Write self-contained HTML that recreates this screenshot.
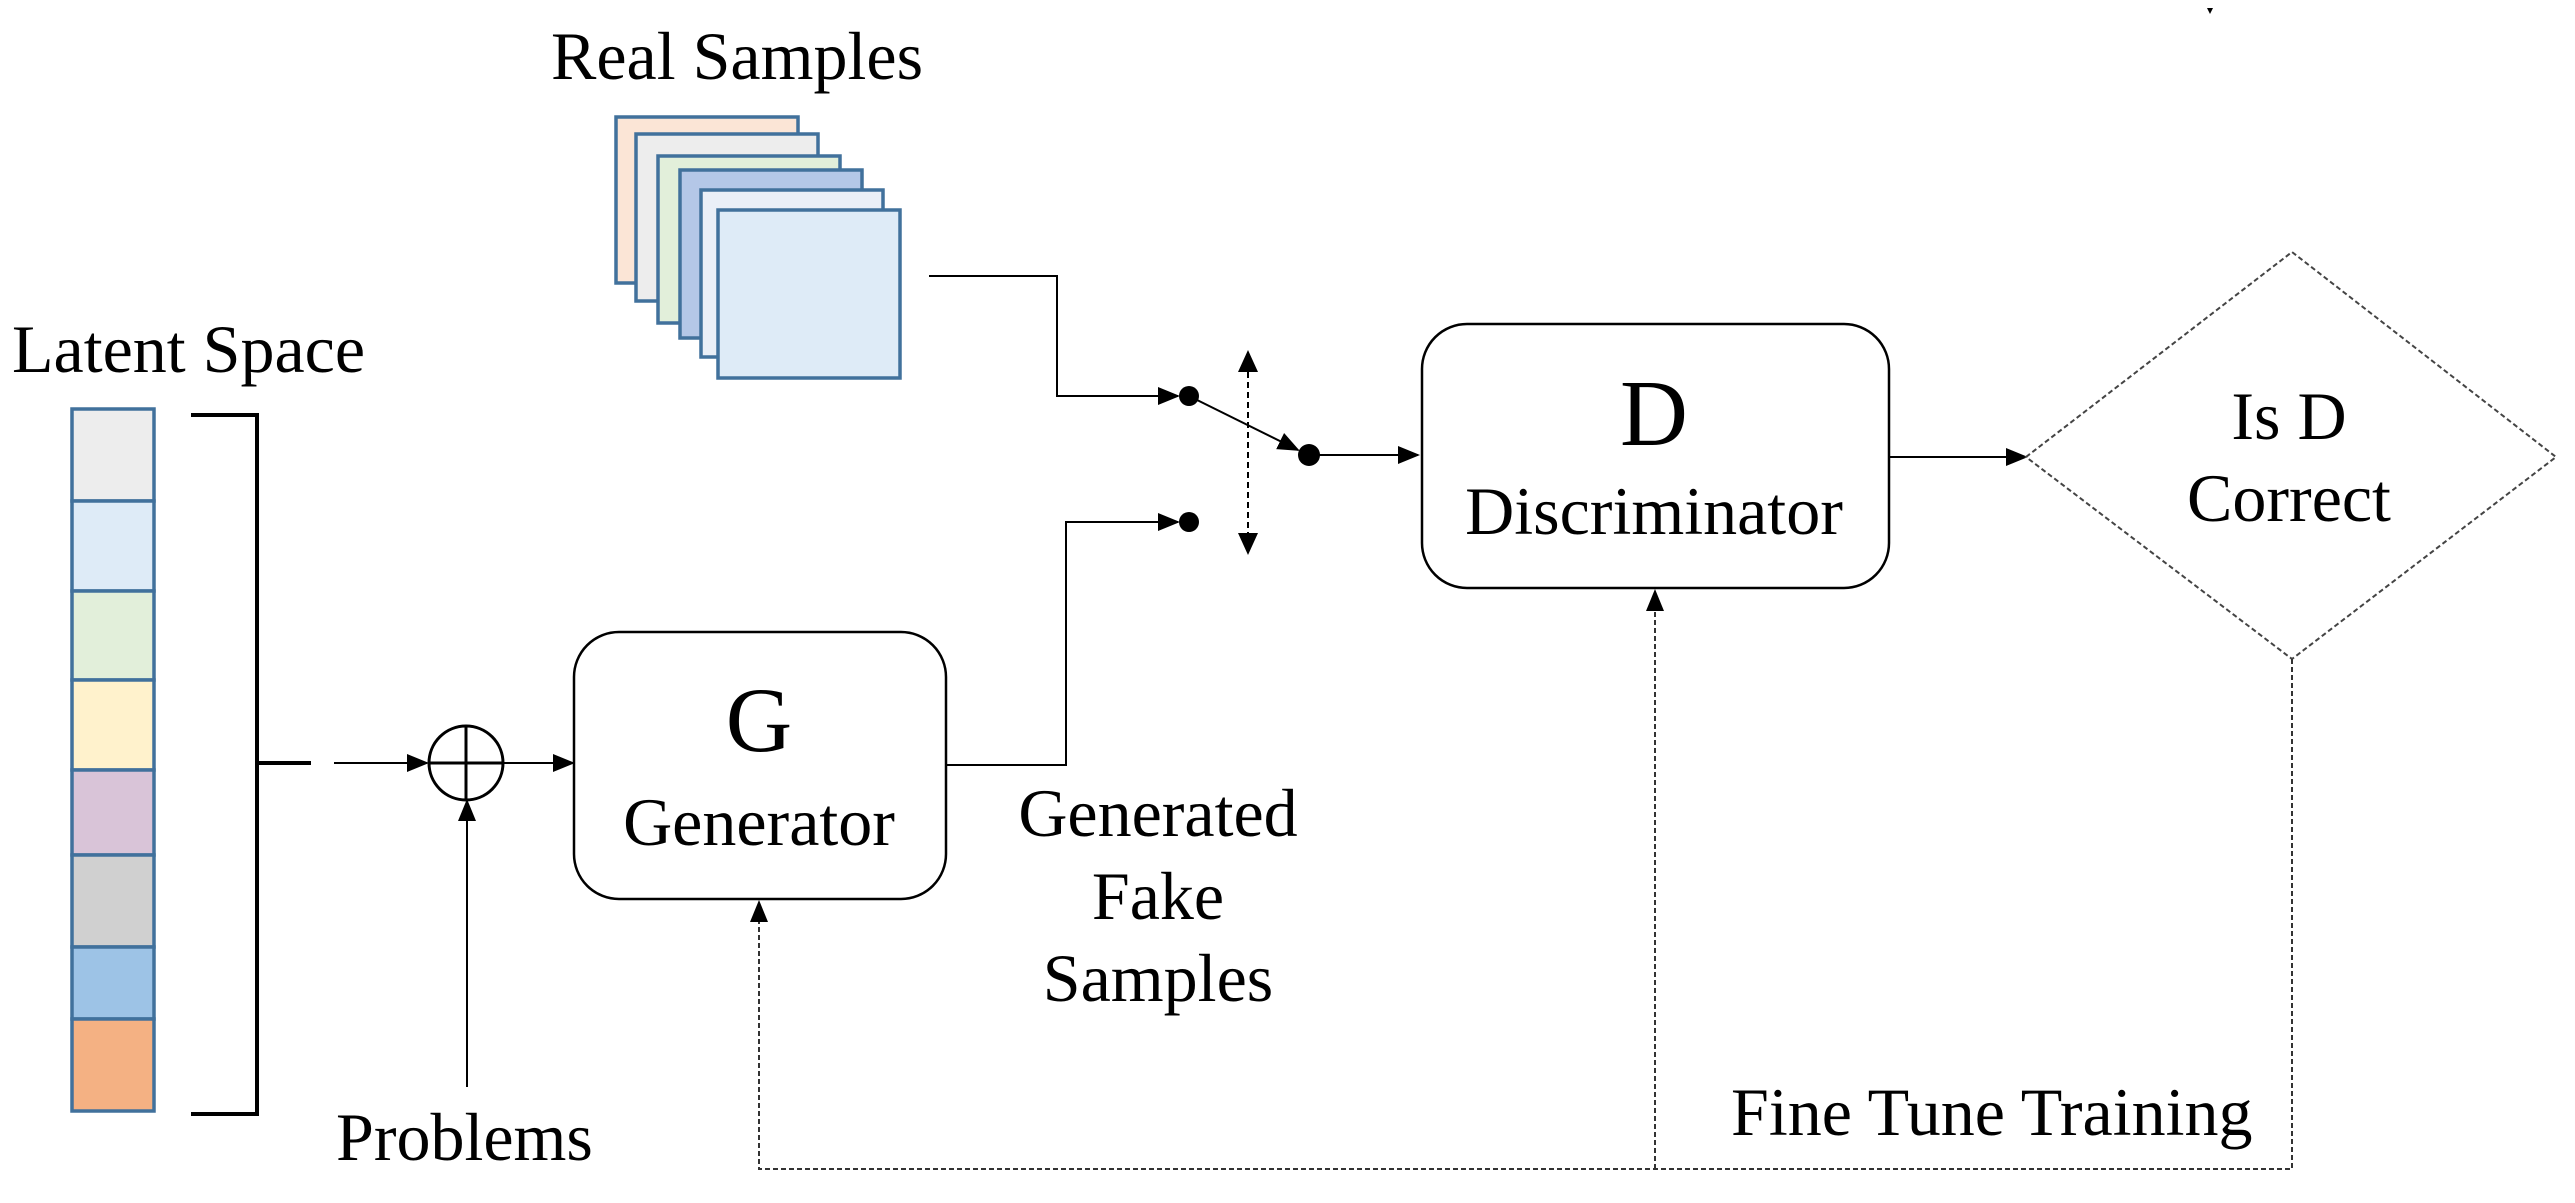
<!DOCTYPE html>
<html><head><meta charset="utf-8"><style>
html,body{margin:0;padding:0;background:#fff;}
svg{display:block;}
text{font-family:"Liberation Serif",serif;fill:#000;}
</style></head><body>
<svg width="2575" height="1203" viewBox="0 0 2575 1203" xmlns="http://www.w3.org/2000/svg">
<defs>
<marker id="arb" markerWidth="22" markerHeight="22" refX="20" refY="11" orient="auto" markerUnits="userSpaceOnUse" viewBox="0 0 22 22">
<path d="M0,2 L22,11 L0,20 z" fill="#000"/></marker>
</defs>

<text x="551" y="79" font-size="68">Real Samples</text>
<g stroke="#41719c" stroke-width="3.5">
<rect x="616" y="117" width="182" height="166" fill="#fbe5d6"/>
<rect x="636" y="134" width="182" height="167" fill="#ededed"/>
<rect x="658" y="156" width="182" height="167" fill="#e2efda"/>
<rect x="680" y="170" width="182" height="168" fill="#b4c7e7"/>
<rect x="701" y="190" width="182" height="167" fill="#eaeff7"/>
<rect x="718" y="210" width="182" height="168" fill="#deebf7"/>
</g>

<text x="12" y="372" font-size="68">Latent Space</text>
<g stroke="#41719c" stroke-width="3.5">
<rect x="72" y="409" width="82" height="92" fill="#ededed"/>
<rect x="72" y="501" width="82" height="90" fill="#deebf7"/>
<rect x="72" y="591" width="82" height="89" fill="#e2efda"/>
<rect x="72" y="680" width="82" height="90" fill="#fff2cc"/>
<rect x="72" y="770" width="82" height="85" fill="#d9c4d8"/>
<rect x="72" y="855" width="82" height="92" fill="#d0d0d0"/>
<rect x="72" y="947" width="82" height="72" fill="#9dc3e6"/>
<rect x="72" y="1019" width="82" height="92" fill="#f4b183"/>
</g>
<path d="M191,415 H257 V1114 H191 M257,763 H311" fill="none" stroke="#000" stroke-width="4"/>

<line x1="334" y1="763" x2="427" y2="763" stroke="#000" stroke-width="2" marker-end="url(#arb)"/>
<circle cx="466" cy="763" r="37" fill="none" stroke="#000" stroke-width="3"/>
<line x1="429" y1="763" x2="503" y2="763" stroke="#000" stroke-width="3"/>
<line x1="466" y1="726" x2="466" y2="800" stroke="#000" stroke-width="3"/>
<line x1="504" y1="763" x2="573" y2="763" stroke="#000" stroke-width="2" marker-end="url(#arb)"/>
<line x1="467" y1="1087" x2="467" y2="801" stroke="#000" stroke-width="2" marker-end="url(#arb)"/>
<text x="336" y="1160" font-size="68">Problems</text>

<rect x="574" y="632" width="372" height="267" rx="45" fill="#fff" stroke="#000" stroke-width="2.5"/>
<text x="759" y="751" font-size="92" text-anchor="middle">G</text>
<text x="759" y="845" font-size="68" text-anchor="middle">Generator</text>

<text x="1158" y="836" font-size="68" text-anchor="middle">Generated</text>
<text x="1158" y="919" font-size="68" text-anchor="middle">Fake</text>
<text x="1158" y="1001" font-size="68" text-anchor="middle">Samples</text>

<path d="M929,276 H1057 V396 H1178" fill="none" stroke="#000" stroke-width="2" marker-end="url(#arb)"/>
<path d="M946,765 H1066 V522 H1178" fill="none" stroke="#000" stroke-width="2" marker-end="url(#arb)"/>
<circle cx="1189" cy="396" r="10" fill="#000"/>
<circle cx="1189" cy="522" r="10" fill="#000"/>
<line x1="1189" y1="396" x2="1298" y2="450" stroke="#000" stroke-width="2" marker-end="url(#arb)"/>
<circle cx="1309" cy="455" r="11" fill="#000"/>
<line x1="1248" y1="352" x2="1248" y2="553" stroke="#000" stroke-width="2" stroke-dasharray="6,4"/>
<path d="M1248,350 L1258,372 L1238,372 z M1248,555 L1258,533 L1238,533 z" fill="#000"/>
<line x1="1309" y1="455" x2="1418" y2="455" stroke="#000" stroke-width="2" marker-end="url(#arb)"/>

<rect x="1422" y="324" width="467" height="264" rx="45" fill="#fff" stroke="#000" stroke-width="2.5"/>
<text x="1654" y="445" font-size="94" text-anchor="middle">D</text>
<text x="1654" y="534" font-size="68" text-anchor="middle">Discriminator</text>

<line x1="1889" y1="457" x2="2026" y2="457" stroke="#000" stroke-width="2" marker-end="url(#arb)"/>
<path d="M2026,457 L2292,252 L2556,457 L2292,659 z" fill="none" stroke="#444" stroke-width="2" stroke-dasharray="5,3"/>
<text x="2289" y="439" font-size="68" text-anchor="middle">Is D</text>
<text x="2289" y="521" font-size="68" text-anchor="middle">Correct</text>

<path d="M2292,659 V1169 H759 V905" fill="none" stroke="#333" stroke-width="2" stroke-dasharray="5,3"/>
<path d="M759,900 L768,922 L750,922 z" fill="#000"/>
<line x1="1655" y1="1169" x2="1655" y2="592" stroke="#333" stroke-width="2" stroke-dasharray="5,3"/>
<path d="M1655,589 L1664,611 L1646,611 z" fill="#000"/>
<text x="1731" y="1135" font-size="68">Fine Tune Training</text>

<path d="M2207,8 L2213,8 L2210,14 z" fill="#000"/>
</svg>
</body></html>
